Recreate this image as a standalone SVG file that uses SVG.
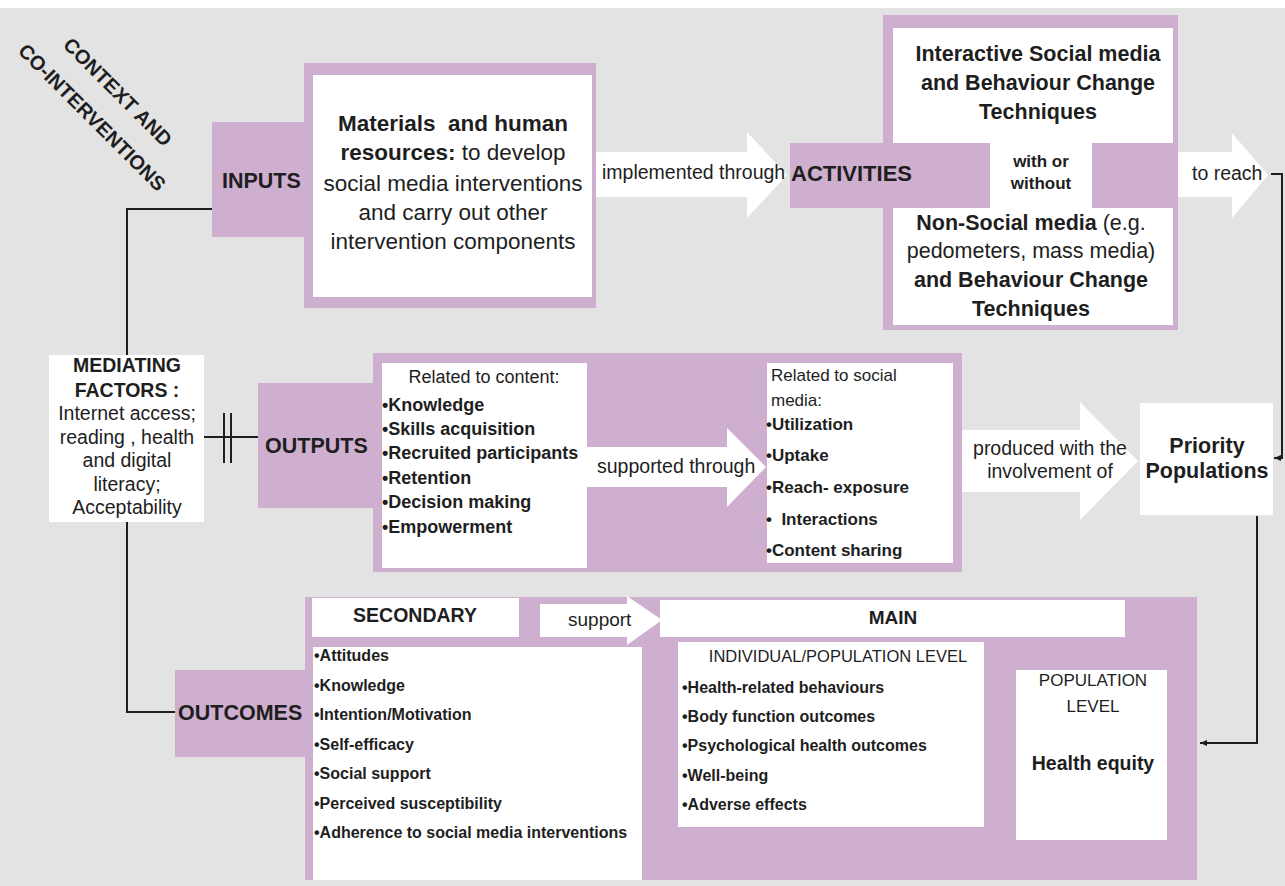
<svg xmlns="http://www.w3.org/2000/svg" width="1285" height="886" viewBox="0 0 1285 886">
<defs>
<style>
text{font-family:"Liberation Sans",Arial,sans-serif;fill:#1e1e1e}
.p{fill:#cfafcf}
.w{fill:#ffffff}
.b{font-weight:bold}
.c{text-anchor:middle}
.ln{stroke:#1e1e1e;stroke-width:2;fill:none}
</style>
<marker id="ah" markerWidth="8" markerHeight="8" refX="7" refY="4" orient="auto" markerUnits="userSpaceOnUse"><path d="M0,1 L7,4 L0,7 z" fill="#1e1e1e"/></marker>
</defs>
<rect x="0" y="0" width="1285" height="886" fill="#e3e3e3"/>
<rect x="0" y="0" width="1285" height="8" fill="#ffffff"/>

<g id="context">
<text class="b" font-size="20" transform="translate(62,46) rotate(45)">CONTEXT AND</text>
<text class="b" font-size="20" transform="translate(17,52) rotate(45)">CO-INTERVENTIONS</text>
</g>

<g id="connectors">
<polyline class="ln" points="212,209 127,209 127,355"/>
<polyline class="ln" points="127,522 127,712 175,712"/>
<line class="ln" x1="204" y1="437" x2="258" y2="437"/>
<line class="ln" x1="224" y1="413" x2="224" y2="463"/>
<line class="ln" x1="231" y1="413" x2="231" y2="463"/>
<polyline class="ln" points="1271,174 1282,174 1282,458 1274,458" marker-end="url(#ah)"/>
<polyline class="ln" points="1257,516 1257,743 1200,743" marker-end="url(#ah)"/>
<polygon class="w" points="596,152 747,152 747,132 787,175 747,218 747,197 596,197"/>
<polygon class="w" points="1178,152 1232,152 1232,133 1268,175 1232,218 1232,197 1178,197"/>
<polygon class="w" points="962,430 1080,430 1080,402 1138,461 1080,520 1080,492 962,492"/>
</g>

<g id="inputs">
<rect class="p" x="212" y="122" width="95" height="115"/>
<text class="b" font-size="21.5" x="222" y="188">INPUTS</text>
<rect class="p" x="304" y="63" width="292" height="245"/>
<rect class="w" x="313" y="75" width="279" height="222"/>
<text class="c" font-size="22.5" x="453" y="131" xml:space="preserve"><tspan class="b">Materials  and human</tspan></text>
<text class="c" font-size="22.5" x="453" y="160"><tspan class="b">resources:</tspan> to develop</text>
<text class="c" font-size="22.5" x="453" y="191">social media interventions</text>
<text class="c" font-size="22.5" x="453" y="220">and carry out other</text>
<text class="c" font-size="22.5" x="453" y="249">intervention components</text>
<text font-size="19.5" x="602" y="179">implemented through</text>
</g>

<g id="activities">
<rect class="p" x="883" y="15" width="295" height="315"/>
<rect class="w" x="893" y="28" width="280" height="297"/>
<rect class="p" x="790" y="143" width="200" height="65"/>
<rect class="p" x="1092" y="143" width="86" height="65"/>
<text class="b" font-size="22" x="791" y="181">ACTIVITIES</text>
<text class="b c" font-size="21.5" x="1038" y="61">Interactive Social media</text>
<text class="b c" font-size="21.5" x="1038" y="90">and Behaviour Change</text>
<text class="b c" font-size="21.5" x="1038" y="119">Techniques</text>
<text class="b c" font-size="17" x="1041" y="167">with or</text>
<text class="b c" font-size="17" x="1041" y="189">without</text>
<text class="c" font-size="21.5" x="1031" y="230"><tspan class="b">Non-Social media</tspan> (e.g.</text>
<text class="c" font-size="21.5" x="1031" y="258">pedometers, mass media)</text>
<text class="b c" font-size="21.5" x="1031" y="287">and Behaviour Change</text>
<text class="b c" font-size="21.5" x="1031" y="316">Techniques</text>
<text font-size="19.5" x="1192" y="180">to reach</text>
</g>

<g id="mediating">
<rect class="w" x="49" y="355" width="155" height="167"/>
<text class="b c" font-size="19.5" x="127" y="372">MEDIATING</text>
<text class="b c" font-size="19.5" x="127" y="397">FACTORS :</text>
<text class="c" font-size="19.5" x="127" y="420">Internet access;</text>
<text class="c" font-size="19.5" x="127" y="444">reading , health</text>
<text class="c" font-size="19.5" x="127" y="467">and digital</text>
<text class="c" font-size="19.5" x="127" y="491">literacy;</text>
<text class="c" font-size="19.5" x="127" y="514">Acceptability</text>
</g>

<g id="outputs">
<rect class="p" x="258" y="383" width="117" height="125"/>
<text class="b" font-size="21.5" x="265" y="453">OUTPUTS</text>
<rect class="p" x="373" y="353" width="589" height="219"/>
<rect class="w" x="382" y="363" width="205" height="205"/>
<text class="c" font-size="18" x="484" y="383">Related to content:</text>
<g class="b" font-size="18">
<text x="382" y="411">•Knowledge</text>
<text x="382" y="435">•Skills acquisition</text>
<text x="382" y="459">•Recruited participants</text>
<text x="382" y="484">•Retention</text>
<text x="382" y="508">•Decision making</text>
<text x="382" y="533">•Empowerment</text>
</g>
<polygon class="w" points="587,447 727,447 727,428 766,467 727,507 727,487 587,487"/>
<text font-size="19.5" x="597" y="473">supported through</text>
<rect class="w" x="767" y="363" width="186" height="200"/>
<text font-size="17" x="771" y="381">Related to social</text>
<text font-size="17" x="771" y="406">media:</text>
<g class="b" font-size="17">
<text x="766" y="430">•Utilization</text>
<text x="766" y="461">•Uptake</text>
<text x="766" y="493">•Reach- exposure</text>
<text x="766" y="525" xml:space="preserve">•  Interactions</text>
<text x="766" y="556">•Content sharing</text>
</g>
<text class="c" font-size="19.5" x="1050" y="455">produced with the</text>
<text class="c" font-size="19.5" x="1050" y="478">involvement of</text>
</g>

<g id="priority">
<rect class="w" x="1140" y="403" width="133" height="112"/>
<text class="b c" font-size="21.5" x="1207" y="453">Priority</text>
<text class="b c" font-size="21.5" x="1207" y="478">Populations</text>
</g>

<g id="outcomes">
<rect class="p" x="175" y="670" width="132" height="87"/>
<text class="b" font-size="21.5" x="178" y="720">OUTCOMES</text>
<rect class="p" x="305" y="597" width="892" height="283"/>
<rect class="w" x="312" y="598" width="207" height="39"/>
<text class="b c" font-size="19.5" x="415" y="622">SECONDARY</text>
<polygon class="w" points="540,604 627,604 627,596 662,620 627,645 627,637 540,637"/>
<text font-size="19" x="568" y="626">support</text>
<rect class="w" x="313" y="647" width="329" height="233"/>
<g class="b" font-size="16">
<text x="314" y="661">•Attitudes</text>
<text x="314" y="691">•Knowledge</text>
<text x="314" y="720">•Intention/Motivation</text>
<text x="314" y="750">•Self-efficacy</text>
<text x="314" y="779">•Social support</text>
<text x="314" y="809">•Perceived susceptibility</text>
<text x="314" y="838">•Adherence to social media interventions</text>
</g>
<rect class="w" x="660" y="600" width="465" height="37"/>
<text class="b c" font-size="19" x="893" y="624">MAIN</text>
<rect class="w" x="678" y="642" width="306" height="185"/>
<text class="c" font-size="16.5" x="838" y="662">INDIVIDUAL/POPULATION LEVEL</text>
<g class="b" font-size="16">
<text x="682" y="693">•Health-related behaviours</text>
<text x="682" y="722">•Body function outcomes</text>
<text x="682" y="751">•Psychological health outcomes</text>
<text x="682" y="781">•Well-being</text>
<text x="682" y="810">•Adverse effects</text>
</g>
<rect class="w" x="1016" y="670" width="151" height="170"/>
<text class="c" font-size="17" x="1093" y="686">POPULATION</text>
<text class="c" font-size="17" x="1093" y="712">LEVEL</text>
<text class="b c" font-size="19.5" x="1093" y="770">Health equity</text>
</g>
</svg>
